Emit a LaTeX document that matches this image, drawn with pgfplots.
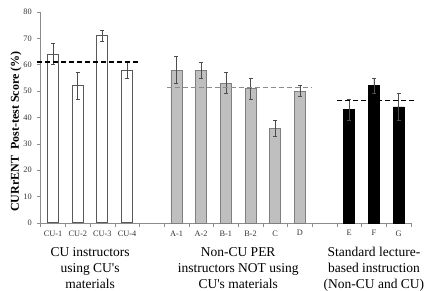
\documentclass[border=0pt]{standalone}
\usepackage{fontspec}
\setmainfont{Liberation Serif}[Ligatures=TeXOff]
\usepackage{pgfplots}
\pgfplotsset{compat=1.18}
\definecolor{axgray}{HTML}{8C8C8C}
\definecolor{barmid}{HTML}{BFBFBF}
\definecolor{barmidedge}{HTML}{7F7F7F}
\definecolor{cuedge}{HTML}{595959}
\definecolor{errc}{HTML}{4D4D4D}
\begin{document}
\begin{tikzpicture}
\path[use as bounding box] (-40.7pt,-68pt) rectangle (388.3pt,223pt);
\begin{axis}[
 at={(0pt,0pt)}, anchor=south west,
 scale only axis, width=370.3pt, height=211pt,
 xmin=-0.5, xmax=14.5, ymin=0, ymax=80,
 clip=false,
 axis x line*=bottom, axis y line*=left,
 axis line style={draw=axgray, line width=0.6pt, -},
 ytick={0,10,...,80},
 xtick={0,...,14},
 xticklabels={CU-1,CU-2,CU-3,CU-4,{},A-1,A-2,B-1,B-2,C,D,{},E,F,G},
 minor xtick={-0.5,0.5,...,14.5},
 tick align=outside,
 major tick length=3.5pt, minor tick length=4pt,
 major x tick style={draw=none},
 minor x tick style={draw=axgray, line width=0.5pt},
 major y tick style={draw=axgray, line width=0.5pt},
 tick label style={font=\fontsize{8.3}{10}\selectfont, text=black!80},
 /pgf/number format/assume math mode=true,
 xticklabel style={yshift=-0.5pt},
 yticklabel style={xshift=-2pt},
 error bars/error bar style={draw=errc, line width=0.7pt},
 error bars/error mark options={draw=errc, rotate=90, mark size=2pt, line width=0.7pt},
]
% CU instructors
\addplot[ybar, bar width=11pt, bar shift=0pt, fill=white, draw=cuedge, line width=1pt,
  error bars/.cd, y dir=both, y explicit]
  table[x=x, y=y, y error=e] {
x y e
0 64 4
1 52 5
2 71 2
3 58 3
};
% Non-CU PER
\addplot[ybar, bar width=11pt, bar shift=0pt, fill=barmid, draw=barmidedge, line width=0.8pt,
  error bars/.cd, y dir=both, y explicit]
  table[x=x, y=y, y error=e] {
x y e
5 58 5
6 58 3
7 53 4
8 51 4
9 36 3
10 50 2
};
% Standard lecture
\addplot[ybar, bar width=11pt, bar shift=0pt, fill=black, draw=black, line width=0.8pt,
  error bars/.cd, y dir=both, y explicit]
  table[x=x, y=y, y error=e] {
x y e
12 43 4
13 52 3
14 44 5
};
% group averages
\addplot[black, line width=1.6pt, dash pattern=on 5pt off 3pt] coordinates {(-0.66,61.1) (3.44,61.1)};
\addplot[axgray, line width=1.6pt, dash pattern=on 5pt off 3pt] coordinates {(4.6,51.4) (10.5,51.4)};
\addplot[black, line width=1.6pt, dash pattern=on 5pt off 3pt] coordinates {(11.5,46.5) (14.7,46.5)};

\node[anchor=north, align=center, inner sep=0pt, font=\fontsize{13.5}{16}\selectfont] at (axis cs:1.5,0) [yshift=-24pt] {CU instructors\\using CU's\\materials};
\node[anchor=north, align=center, inner sep=0pt, font=\fontsize{13.5}{16}\selectfont] at (axis cs:7.5,0) [yshift=-24pt] {Non-CU PER\\instructors NOT using\\CU's materials};
\node[anchor=north, align=center, inner sep=0pt, font=\fontsize{13.5}{16}\selectfont] at (axis cs:13,0) [yshift=-24pt] {Standard lecture-\\based instruction\\(Non-CU and CU)};
\end{axis}
\node[rotate=90, font=\bfseries\fontsize{12}{14}\selectfont] at (-24.7pt,91.5pt) {CURrENT\ \ Post-test Score (\%)};
\end{tikzpicture}
\end{document}
